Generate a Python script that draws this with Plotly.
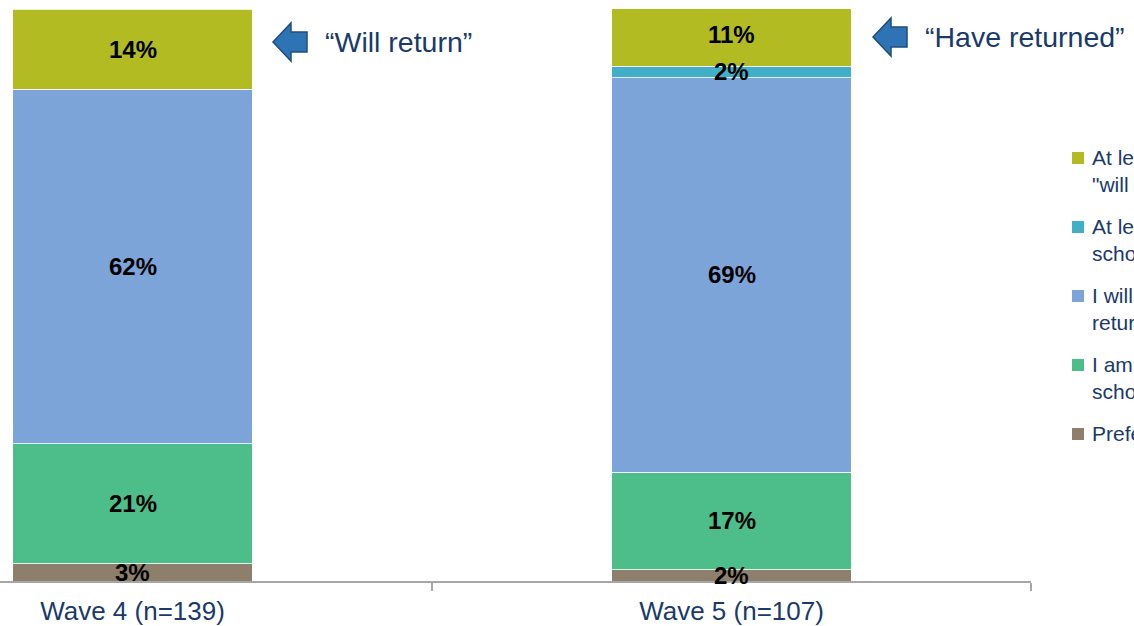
import plotly.graph_objects as go

# Survey waves and response shares (%), stacked bottom to top
waves = ["Wave 4 (n=139)", "Wave 5 (n=107)"]
series_names = [
    "Prefer not to say",
    "I am keeping my children out of<br>school",
    "I will wait for schools to<br>return",
    "At least one child has returned to<br>school",
    "At least one child<br>\"will return\"",
]
prefer_not = [3, 2]
keeping_out = [21, 17]
will_wait = [62, 69]
has_returned = [0, 2]
will_return = [14, 11]
series_values = [prefer_not, keeping_out, will_wait, has_returned, will_return]
colors = ["#8E7E6C", "#4DBE8A", "#7CA4D9", "#41AFC8", "#B2BC22"]

callouts = ["\u201cWill return\u201d", "\u201cHave returned\u201d"]

W, H = 1134, 626
M_L, M_R, M_T, M_B = 0, 103, 9, 45
PW, PH = W - M_L - M_R, H - M_T - M_B
FONT = "Liberation Sans, Arial, sans-serif"
NAVY = "#1A3A6B"


def px_x(p):
    return (p - M_L) / PW


def px_y(p):
    return (H - M_B - p) / PH


fig = go.Figure()
for name, vals, col in zip(series_names, series_values, colors):
    fig.add_trace(go.Bar(
        x=waves, y=vals, name=name, width=0.4,
        marker=dict(color=col, line=dict(color="rgba(255,255,255,0.8)", width=1)),
        hoverinfo="skip",
    ))

annotations = []
# value labels centred in each segment
for wi, wave in enumerate(waves):
    base = 0
    for vals in series_values:
        v = vals[wi]
        if v > 0:
            annotations.append(dict(
                x=wave, y=base + v / 2, xref="x", yref="y", text=f"<b>{v}%</b>",
                showarrow=False, font=dict(family=FONT, size=24, color="#000000"),
                xanchor="center", yanchor="middle",
            ))
        base += v

# block arrows and callout texts beside the top segments
shapes = []
arrow_pos = [(273, 42), (873, 37)]
for (tx, cy), label in zip(arrow_pos, callouts):
    pts = [
        (tx, cy), (tx + 18, cy - 19), (tx + 18, cy - 10), (tx + 34, cy - 10),
        (tx + 34, cy + 10), (tx + 18, cy + 10), (tx + 18, cy + 19),
    ]
    path = "M " + " L ".join(f"{px_x(a):.5f},{px_y(b):.5f}" for a, b in pts) + " Z"
    shapes.append(dict(type="path", xref="paper", yref="paper", path=path,
                       fillcolor="#2E74B5", line=dict(color="#1F4E79", width=1.5)))
    annotations.append(dict(
        x=px_x(tx + 50), y=px_y(cy), xref="paper", yref="paper", text=label,
        showarrow=False, xanchor="left", yanchor="middle",
        font=dict(family=FONT, size=28.5, color=NAVY),
    ))

# legend entries drawn in reverse stack order, running off the right edge
leg_centers = [158, 227, 296, 365, 434]
for cy, name, col in zip(leg_centers, series_names[::-1], colors[::-1]):
    shapes.append(dict(type="rect", xref="paper", yref="paper",
                       x0=px_x(1072), x1=px_x(1084), y0=px_y(cy - 6), y1=px_y(cy + 6),
                       fillcolor=col, line=dict(width=0)))
    annotations.append(dict(
        x=px_x(1090), y=px_y(cy - 14), xref="paper", yref="paper", text=name,
        showarrow=False, xanchor="left", yanchor="top", align="left",
        font=dict(family=FONT, size=21, color=NAVY),
    ))

fig.update_layout(
    width=W, height=H,
    margin=dict(l=M_L, r=M_R, t=M_T, b=M_B, autoexpand=False),
    barmode="stack", bargap=0.6, showlegend=False,
    plot_bgcolor="white", paper_bgcolor="white",
    font=dict(family=FONT),
    shapes=shapes, annotations=annotations,
)
fig.update_xaxes(
    type="category", range=[-0.2212, 1.5], tickson="boundaries",
    showline=True, linecolor="#A6A6A6", linewidth=2,
    ticks="outside", ticklen=8, tickwidth=2, tickcolor="#A6A6A6",
    ticklabelstandoff=6,
    tickfont=dict(family=FONT, size=26, color=NAVY), showgrid=False,
)
fig.update_yaxes(range=[0, 100], visible=False, showgrid=False, zeroline=False)

fig.write_html("out.html")
